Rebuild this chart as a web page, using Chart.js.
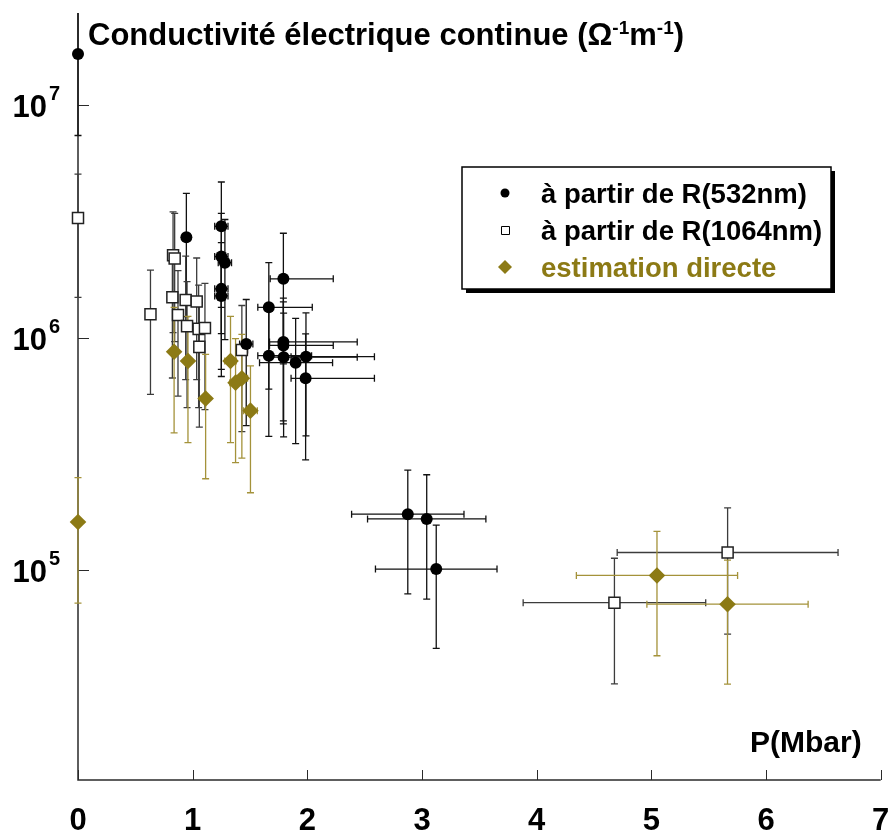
<!DOCTYPE html>
<html>
<head>
<meta charset="utf-8">
<script src="https://cdn.jsdelivr.net/npm/chart.js@4.4.0/dist/chart.umd.min.js"></script>
<style>
  body { margin: 0; background: #fff; }
  #wrap { width: 890px; height: 833px; }
</style>
</head>
<body>
<div id="wrap"><canvas id="condChart" width="890" height="833"></canvas></div>
<script>
// R(532nm) - black circles
const r532X = [0, 0.945, 1.25, 1.25, 1.281, 1.25, 1.25, 1.467, 1.791, 1.664, 1.791, 1.791, 1.664, 1.793, 1.988, 1.898, 1.985, 2.876, 3.041, 3.124];
const r532Y = [1.66e7, 2.70e6, 3.01e6, 2.23e6, 2.10e6, 1.62e6, 1.51e6, 9.38e5, 1.79e6, 1.35e6, 9.58e5, 9.25e5, 8.36e5, 8.24e5, 8.28e5, 7.80e5, 6.68e5, 1.74e5, 1.66e5, 1.01e5];
const r532XErrMinus = [0, 0, 0.058, 0.058, 0.058, 0.058, 0.058, 0.058, 0.115, 0.096, 0.121, 0.121, 0.096, 0.123, 0.130, 0.315, 0.127, 0.49, 0.516, 0.53];
const r532XErrPlus = [0, 0, 0.058, 0.058, 0.058, 0.058, 0.058, 0.058, 0.435, 0.379, 0.644, 0.435, 0.373, 0.642, 0.597, 0.322, 0.600, 0.49, 0.516, 0.53];
const r532YErr = [9.2e6, 1.47e6, 1.66e6, 1.19e6, 1.12e6, 0.94e6, 0.78e6, 5.2e5, 1.02e6, 0.75e6, 5.2e5, 5.0e5, 4.6e5, 4.5e5, 4.5e5, 4.3e5, 3.7e5, 0.95e5, 0.91e5, 0.55e5];

// R(1064nm) - open squares
const r1064X = [0, 0.632, 0.829, 0.843, 0.823, 0.872, 0.939, 1.035, 0.951, 1.052, 1.107, 1.058, 1.429, 4.678, 5.665];
const r1064Y = [3.27e6, 1.26e6, 2.26e6, 2.19e6, 1.49e6, 1.25e6, 1.45e6, 1.43e6, 1.12e6, 1.09e6, 1.10e6, 9.12e5, 8.84e5, 7.24e4, 1.19e5];
const r1064XErr = [0, 0, 0, 0, 0, 0, 0, 0.04, 0, 0.04, 0.045, 0, 0.05, 0.796, 0.963];
const r1064YErr = [1.78e6, 0.69e6, 1.21e6, 1.23e6, 0.82e6, 0.69e6, 0.79e6, 0.77e6, 0.62e6, 0.59e6, 0.61e6, 0.50e6, 0.49e6, 0.40e5, 0.66e5];

// estimation directe - gold diamonds
const directX = [0, 0.838, 0.959, 1.113, 1.330, 1.374, 1.429, 1.504, 5.049, 5.664];
const directY = [1.61e5, 8.69e5, 7.93e5, 5.47e5, 7.93e5, 6.40e5, 6.68e5, 4.85e5, 9.48e4, 7.13e4];
const directXErr = [0, 0, 0, 0, 0.05, 0.05, 0.05, 0.06, 0.703, 0.703];
const directYErr = [0.89e5, 4.8e5, 4.4e5, 3.0e5, 4.4e5, 3.5e5, 3.65e5, 2.7e5, 5.2e4, 3.9e4];

const xTickValues = [0, 1, 2, 3, 4, 5, 6, 7];
const yTickExponents = [5, 6, 7];

const GOLD = '#8c7a15';
const FONT = "'Liberation Sans', Arial, sans-serif";

function points(xs, ys) {
    return xs.map((x, i) => ({ x: x, y: ys[i] }));
}

const axesAndErrors = {
    id: 'axesAndErrors',
    beforeDatasetsDraw(chart) {
        const { ctx, chartArea, scales: { x, y } } = chart;
        ctx.save();

        // axes
        ctx.strokeStyle = '#2a2a2a';
        ctx.lineWidth = 1.5;
        ctx.beginPath();
        ctx.moveTo(chartArea.left, chartArea.top);
        ctx.lineTo(chartArea.left, chartArea.bottom);
        ctx.lineTo(chartArea.right, chartArea.bottom);
        ctx.stroke();

        ctx.lineWidth = 1;
        ctx.beginPath();
        xTickValues.forEach(v => {
            const px = Math.round(x.getPixelForValue(v)) + 0.5;
            ctx.moveTo(px, chartArea.bottom);
            ctx.lineTo(px, chartArea.bottom - 10);
        });
        yTickExponents.forEach(e => {
            const py = Math.round(y.getPixelForValue(Math.pow(10, e))) + 0.5;
            ctx.moveTo(chartArea.left, py);
            ctx.lineTo(chartArea.left + 11, py);
        });
        ctx.stroke();

        // error bars
        ctx.beginPath();
        ctx.rect(0, chartArea.top, chart.width, chartArea.bottom - chartArea.top);
        ctx.clip();
        const cap = 3.5;
        chart.data.datasets.forEach(ds => {
            const e = ds.errors;
            ctx.strokeStyle = e.color;
            ctx.lineWidth = 1.3;
            ds.data.forEach((p, i) => {
                const px = x.getPixelForValue(p.x);
                const py = y.getPixelForValue(p.y);
                ctx.beginPath();
                if (e.y[i] > 0) {
                    const top = y.getPixelForValue(p.y + e.y[i]);
                    const bot = y.getPixelForValue(p.y - e.y[i]);
                    ctx.moveTo(px, top); ctx.lineTo(px, bot);
                    ctx.moveTo(px - cap, top); ctx.lineTo(px + cap, top);
                    ctx.moveTo(px - cap, bot); ctx.lineTo(px + cap, bot);
                }
                if (e.xMinus[i] > 0 || e.xPlus[i] > 0) {
                    const l = x.getPixelForValue(p.x - e.xMinus[i]);
                    const r = x.getPixelForValue(p.x + e.xPlus[i]);
                    ctx.moveTo(l, py); ctx.lineTo(r, py);
                    ctx.moveTo(l, py - cap); ctx.lineTo(l, py + cap);
                    ctx.moveTo(r, py - cap); ctx.lineTo(r, py + cap);
                }
                ctx.stroke();
            });
        });
        ctx.restore();
    },
    afterDraw(chart) {
        const { ctx, scales: { x, y } } = chart;
        ctx.save();
        ctx.fillStyle = '#000';

        // x tick labels
        ctx.font = 'bold 31px ' + FONT;
        ctx.textAlign = 'center';
        ctx.textBaseline = 'alphabetic';
        xTickValues.forEach(v => ctx.fillText(String(v), x.getPixelForValue(v), 830));

        // y tick labels 10^n
        yTickExponents.forEach(e => {
            const py = y.getPixelForValue(Math.pow(10, e));
            ctx.textAlign = 'right';
            ctx.font = 'bold 31px ' + FONT;
            ctx.fillText('10', 47, py + 12);
            ctx.textAlign = 'left';
            ctx.font = 'bold 20px ' + FONT;
            ctx.fillText(String(e), 49, py - 5);
        });

        // axis titles
        ctx.textAlign = 'left';
        ctx.font = 'bold 30px ' + FONT;
        ctx.fillText('P(Mbar)', 750, 752);

        const parts = [
            ['Conductivité électrique continue (', 31, 0],
            ['Ω', 31, 0],
            ['-1', 19, -11],
            ['m', 31, 0],
            ['-1', 19, -11],
            [')', 31, 0]
        ];
        let tx = 88;
        parts.forEach(([t, size, dy]) => {
            ctx.font = 'bold ' + size + 'px ' + FONT;
            ctx.fillText(t, tx, 45 + dy);
            tx += ctx.measureText(t).width;
        });

        // legend
        const bx = 462, by = 167, bw = 369, bh = 122;
        ctx.fillStyle = '#000';
        ctx.fillRect(bx + 4, by + 4, bw, bh);
        ctx.fillStyle = '#fff';
        ctx.fillRect(bx, by, bw, bh);
        ctx.strokeStyle = '#000';
        ctx.lineWidth = 1.5;
        ctx.strokeRect(bx, by, bw, bh);

        const rows = [203, 240, 277];
        chart.data.datasets.forEach((ds, i) => {
            const my = rows[i] - 10;
            ctx.beginPath();
            if (ds.pointStyle === 'circle') {
                ctx.fillStyle = '#000';
                ctx.arc(505, my, 4.5, 0, Math.PI * 2);
                ctx.fill();
            } else if (ds.pointStyle === 'rect') {
                ctx.fillStyle = '#fff';
                ctx.strokeStyle = '#000';
                ctx.lineWidth = 1;
                ctx.rect(501.5, my - 3.5, 8, 8);
                ctx.fill();
                ctx.stroke();
            } else {
                ctx.fillStyle = GOLD;
                ctx.moveTo(505, my - 7);
                ctx.lineTo(512, my);
                ctx.lineTo(505, my + 7);
                ctx.lineTo(498, my);
                ctx.closePath();
                ctx.fill();
            }
            ctx.font = 'bold 27.5px ' + FONT;
            ctx.fillStyle = ds.pointStyle === 'rectRot' ? GOLD : '#000';
            ctx.fillText(ds.label, 541, rows[i]);
        });
        ctx.restore();
    }
};

const ctx = document.getElementById('condChart').getContext('2d');
const condChart = new Chart(ctx, {
    type: 'scatter',
    data: {
        datasets: [{
            label: 'à partir de R(532nm)',
            data: points(r532X, r532Y),
            errors: { xMinus: r532XErrMinus, xPlus: r532XErrPlus, y: r532YErr, color: '#111' },
            pointStyle: 'circle',
            pointRadius: 6,
            backgroundColor: '#000',
            borderColor: '#000',
            borderWidth: 0,
            clip: false
        }, {
            label: 'à partir de R(1064nm)',
            data: points(r1064X, r1064Y),
            errors: { xMinus: r1064XErr, xPlus: r1064XErr, y: r1064YErr, color: '#3c3c3c' },
            pointStyle: 'rect',
            pointRadius: 7.8,
            backgroundColor: '#fff',
            borderColor: '#222',
            borderWidth: 1.5,
            clip: false
        }, {
            label: 'estimation directe',
            data: points(directX, directY),
            errors: { xMinus: directXErr, xPlus: directXErr, y: directYErr, color: '#a4923a' },
            pointStyle: 'rectRot',
            pointRadius: 8.3,
            backgroundColor: GOLD,
            borderColor: GOLD,
            borderWidth: 0,
            clip: false
        }]
    },
    options: {
        responsive: false,
        animation: false,
        layout: {
            padding: { left: 78, right: 8, top: 13, bottom: 53 }
        },
        plugins: {
            legend: { display: false },
            tooltip: { enabled: false }
        },
        scales: {
            x: {
                type: 'linear',
                display: false,
                min: 0,
                max: 7
            },
            y: {
                type: 'logarithmic',
                display: false,
                min: 1.25e4,
                max: 2.49e7
            }
        }
    },
    plugins: [axesAndErrors]
});
</script>
</body>
</html>
